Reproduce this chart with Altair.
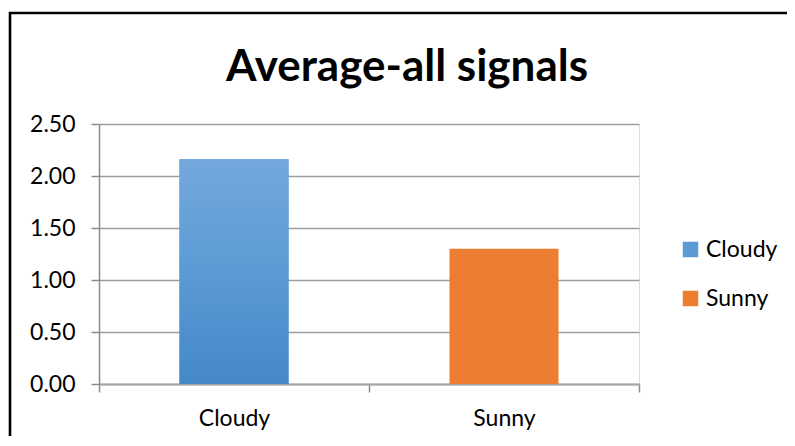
import altair as alt
import pandas as pd

categories = ["Cloudy", "Sunny"]
values = [2.16, 1.30]
colors = ["#5B9BD5", "#ED7D31"]
title_text = "Average-all signals"
y_ticks = [0, 0.5, 1.0, 1.5, 2.0, 2.5]

df = pd.DataFrame({"cat": categories, "val": values})
FONT = "Lato"

x_enc = alt.X("cat:N", sort=categories, title=None,
              scale=alt.Scale(paddingInner=0, paddingOuter=0),
              axis=alt.Axis(labelAngle=0, tickBand="extent", tickSize=8,
                            tickColor="#8c8c8c", tickWidth=1.5,
                            domainColor="#a6a6a6", domainWidth=2,
                            labelPadding=15, labelFontSize=23, labelFont=FONT,
                            labelColor="#000000", grid=False))
y_enc = alt.Y("val:Q", title=None,
              scale=alt.Scale(domain=[0, 2.5]),
              axis=alt.Axis(values=y_ticks, format=".2f", tickSize=8,
                            tickColor="#8c8c8c", tickWidth=1.5,
                            domainColor="#8c8c8c", domainWidth=1.5,
                            gridColor="#9e9e9e", gridWidth=1.5,
                            labelPadding=16, labelFontSize=23, labelFont=FONT,
                            labelColor="#000000"))

bars = alt.Chart(df).mark_bar(width=alt.RelativeBandSize(0.404)).encode(
    x=x_enc,
    y=y_enc,
    color=alt.Color("cat:N", sort=categories,
                    scale=alt.Scale(domain=categories, range=colors),
                    legend=alt.Legend(title=None, orient="none",
                                      legendX=580, legendY=114,
                                      symbolType="square", symbolSize=240,
                                      symbolStrokeWidth=0,
                                      labelFontSize=23, labelFont=FONT,
                                      labelColor="#000000", labelOffset=4,
                                      rowPadding=25)),
)

grad = alt.Chart(df).transform_filter(alt.datum.cat == "Cloudy").mark_bar(
    width=alt.RelativeBandSize(0.404),
    color=alt.Gradient(gradient="linear",
                       stops=[alt.GradientStop(color="#74A8DD", offset=0),
                              alt.GradientStop(color="#5B9BD5", offset=0.5),
                              alt.GradientStop(color="#4488C8", offset=1)],
                       x1=0, x2=0, y1=0, y2=1),
).encode(x=x_enc, y=y_enc)

title = alt.Chart(pd.DataFrame({"t": [title_text]})).mark_text(
    font=FONT, fontSize=44, fontWeight="bold", color="#000000",
    align="center", baseline="alphabetic",
).encode(text="t:N", x=alt.value(308), y=alt.value(-43))

frame = alt.Chart(pd.DataFrame({"a": [0]})).mark_rect(
    fill="transparent", stroke="#000000", strokeWidth=2.6,
).encode(x=alt.value(-89), x2=alt.value(760), y=alt.value(-111), y2=alt.value(420))

chart = alt.layer(frame, bars, grad, title).properties(
    width=540, height=260,
    autosize=alt.AutoSizeParams(type="none"),
    padding={"left": 91, "top": 116, "right": 148, "bottom": 52},
).configure_view(stroke=None).configure(background="#ffffff")

chart.save("out.html", embed_options={"renderer": "svg", "actions": False})
